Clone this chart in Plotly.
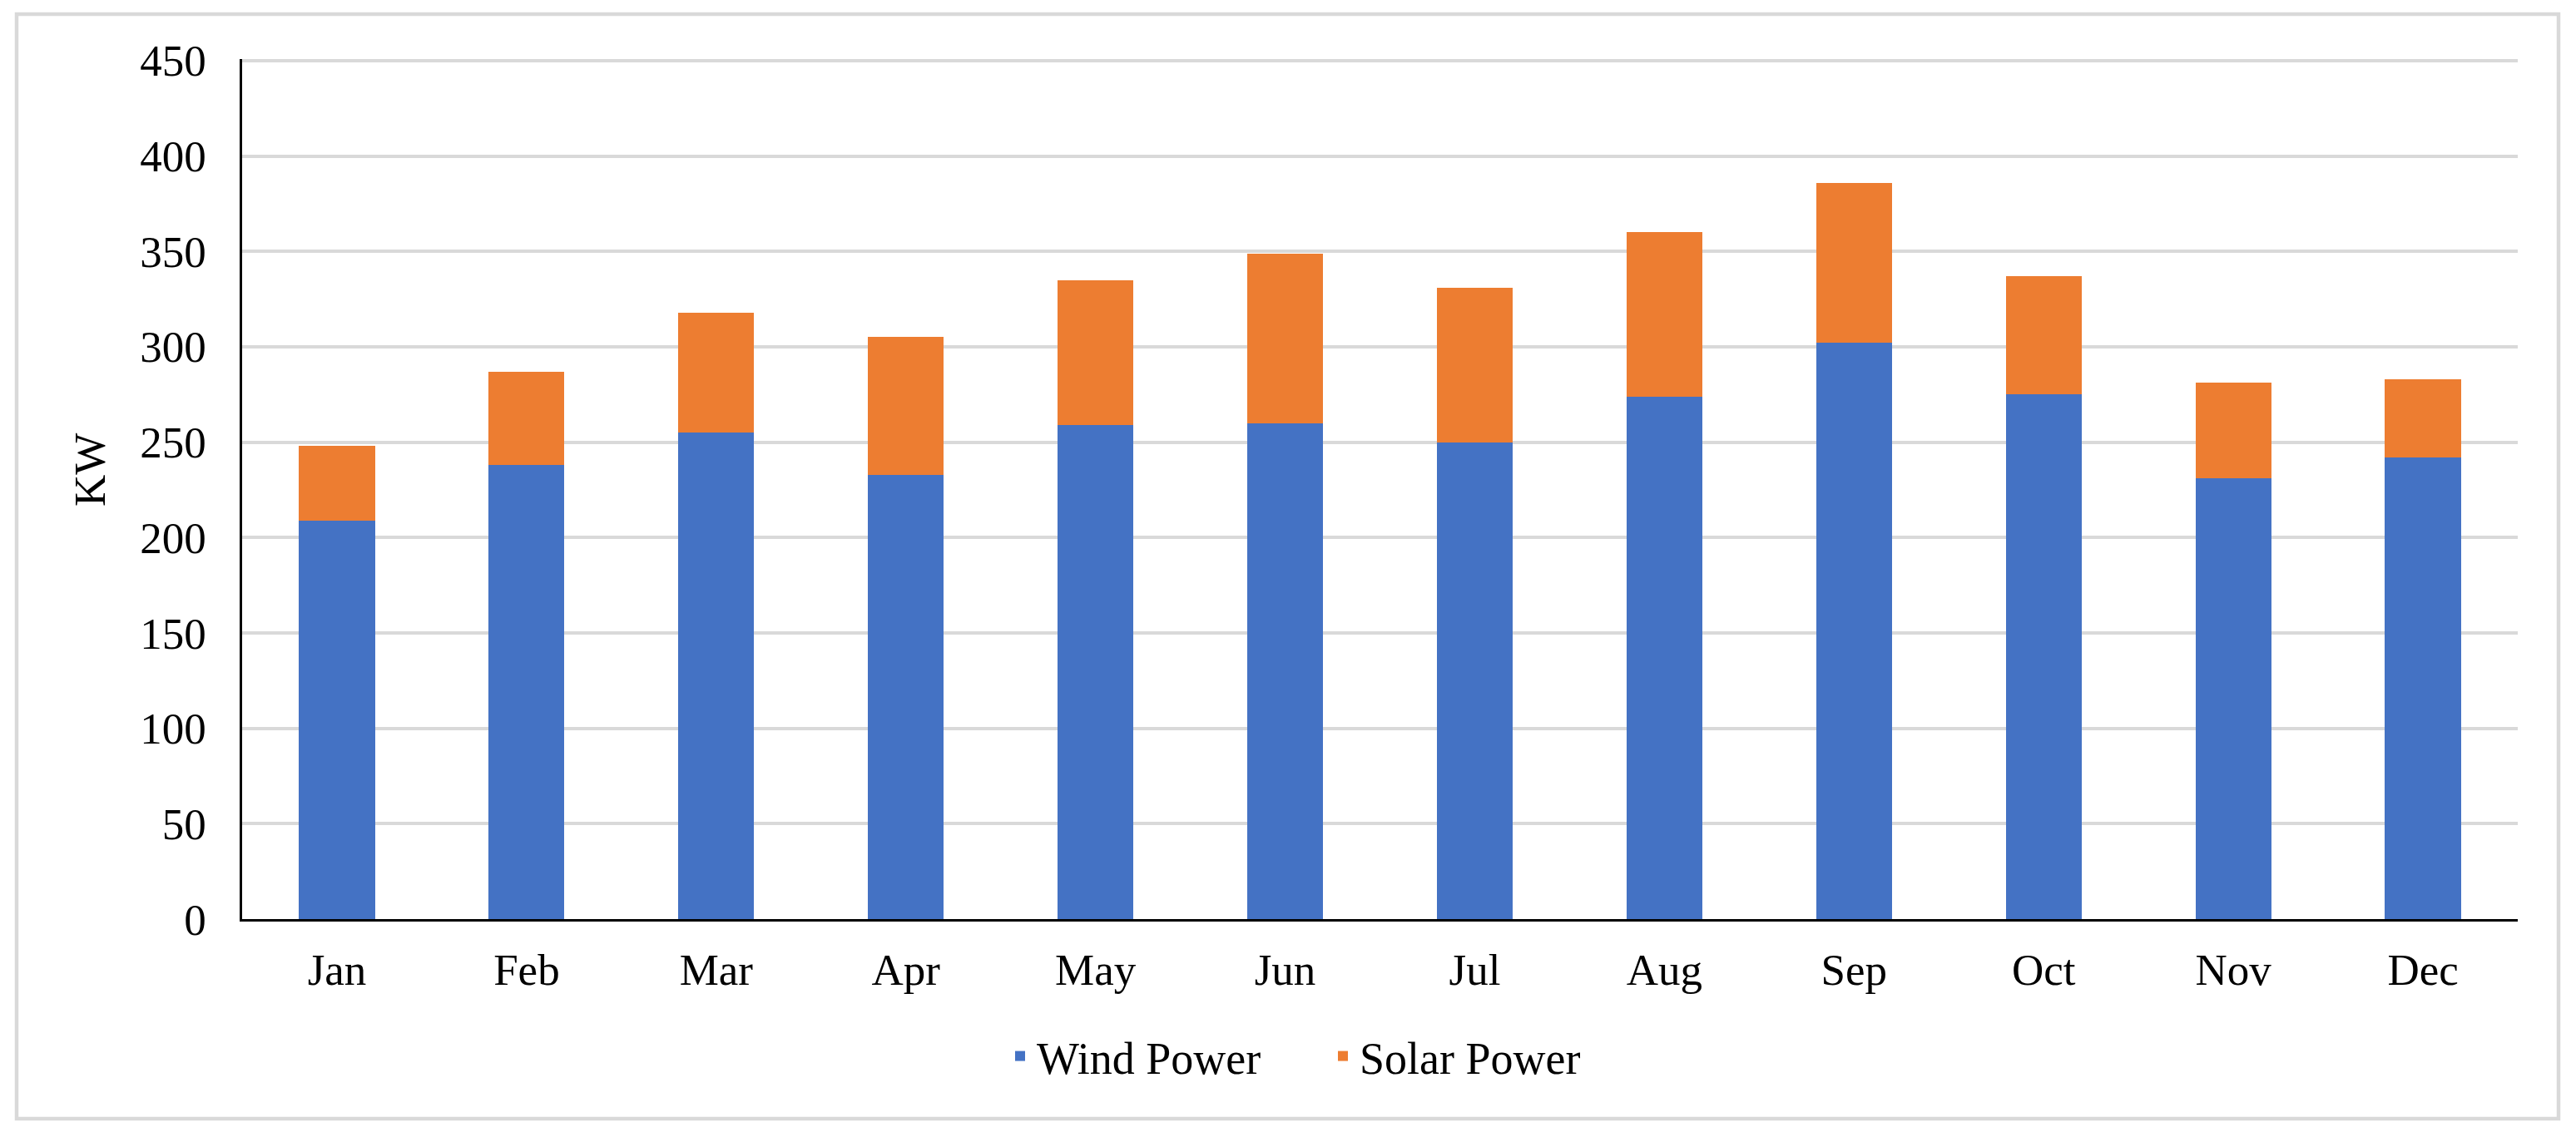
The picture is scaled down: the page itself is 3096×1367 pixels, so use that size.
import plotly.graph_objects as go

months = ["Jan", "Feb", "Mar", "Apr", "May", "Jun", "Jul", "Aug", "Sep", "Oct", "Nov", "Dec"]
wind_power = [209, 238, 255, 233, 259, 260, 250, 274, 302, 275, 231, 242]
total_power = [248, 287, 318, 305, 335, 349, 331, 360, 386, 337, 281, 283]
solar_power = [t - w for t, w in zip(total_power, wind_power)]
y_ticks = [0, 50, 100, 150, 200, 250, 300, 350, 400, 450]

W, H = 3096, 1367
L, R, T, B = 291, 3026, 71, 1105
FONT = "Liberation Serif, Times New Roman, serif"
FS = 53


def px_x(px):
    return (px - L) / (R - L)


def px_y(py):
    return (B - py) / (B - T)


fig = go.Figure()
fig.add_trace(go.Bar(x=months, y=wind_power, name="Wind Power",
                     marker=dict(color="#4472C4", line=dict(width=0))))
fig.add_trace(go.Bar(x=months, y=solar_power, name="Solar Power",
                     marker=dict(color="#ED7D31", line=dict(width=0))))

fig.update_layout(
    width=W, height=H, autosize=False,
    barmode="stack", bargap=0.6,
    paper_bgcolor="white", plot_bgcolor="white",
    margin=dict(l=L, r=W - R, t=T, b=H - B, pad=0),
    font=dict(family=FONT, size=FS, color="black"),
    showlegend=True,
    legend=dict(orientation="h", x=px_x(1594), xanchor="center",
                y=px_y(1270), yanchor="middle",
                entrywidth=343, entrywidthmode="pixels",
                font=dict(family=FONT, size=54, color="black"),
                bgcolor="rgba(0,0,0,0)", traceorder="normal"),
    xaxis=dict(showgrid=False, showline=True, linecolor="black", linewidth=3,
               ticks="", ticklabelstandoff=12, tickfont=dict(family=FONT, size=FS, color="black"),
               zeroline=False),
    yaxis=dict(range=[0, 450.8], tickvals=y_ticks, showgrid=True, gridcolor="#D9D9D9",
               gridwidth=4, showline=True, linecolor="black", linewidth=2.5,
               ticks="", ticklabelstandoff=30, zeroline=False,
               tickfont=dict(family=FONT, size=FS, color="black")),
    annotations=[dict(text="KW", xref="paper", yref="paper", x=px_x(108), y=px_y(565),
                      xanchor="center", yanchor="middle", textangle=-90, showarrow=False,
                      font=dict(family=FONT, size=FS, color="black"))],
    shapes=[dict(type="rect", xref="paper", yref="paper",
                 x0=px_x(20), x1=px_x(3075), y0=px_y(1345), y1=px_y(17),
                 line=dict(color="#D9D9D9", width=4.5), fillcolor="rgba(0,0,0,0)", layer="below")],
)

fig.write_html("out.html", config={"displayModeBar": False},
               post_script="document.body.style.margin='0';document.body.style.overflow='hidden';")
